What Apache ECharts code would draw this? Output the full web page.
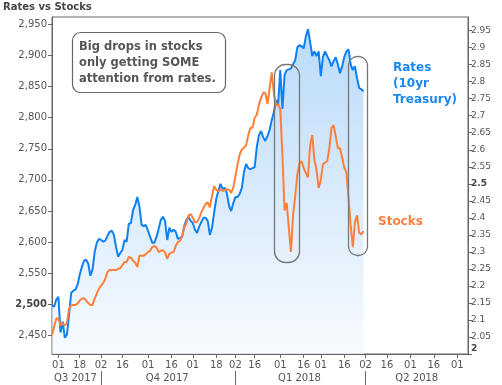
<!DOCTYPE html>
<html><head><meta charset="utf-8">
<script src="https://cdn.jsdelivr.net/npm/echarts@6/dist/echarts.min.js"></script>
<style>html,body{margin:0;padding:0;background:#fff}#c{width:502px;height:385px}</style>
</head><body><div id="c"></div>
<script>
// Trading-day calendar of the x axis (NYSE days), first and last category
const START_DATE = '2017-08-29';
const END_DATE = '2018-06-08';
const HOLIDAYS = ['2017-09-04','2017-11-23','2017-12-25','2018-01-01','2018-01-15','2018-02-19','2018-03-30','2018-05-28'];

// 10yr Treasury yield (%), one value per trading day from 2017-08-29
const rates = [
2.142,2.139,2.160,2.168,2.063,2.095,2.048,2.057,2.116,2.180,
2.186,2.189,2.204,2.233,2.256,2.274,2.277,2.265,2.230,2.248,
2.300,2.327,2.338,2.335,2.330,2.333,2.347,2.359,2.362,2.350,
2.315,2.286,2.297,2.306,2.335,2.330,2.382,2.385,2.423,2.438,
2.461,2.432,2.379,2.376,2.379,2.362,2.344,2.327,2.327,2.344,
2.368,2.394,2.403,2.391,2.335,2.371,2.359,2.365,2.359,2.338,
2.341,2.344,2.376,2.394,2.403,2.391,2.385,2.365,2.356,2.374,
2.388,2.400,2.400,2.391,2.350,2.371,2.415,2.456,2.479,2.500,
2.485,2.488,2.471,2.435,2.420,2.444,2.461,2.461,2.471,2.488,
2.535,2.558,2.546,2.543,2.546,2.549,2.608,2.643,2.655,2.637,
2.626,2.640,2.658,2.687,2.710,2.746,2.734,2.834,2.720,2.819,
2.834,2.836,2.839,2.851,2.863,2.901,2.907,2.904,2.898,2.933,
2.954,2.916,2.875,2.889,2.875,2.889,2.816,2.872,2.889,2.875,
2.863,2.845,2.860,2.872,2.851,2.825,2.845,2.872,2.889,2.895,
2.851,2.834,2.845,2.810,2.781,2.778,2.772];

// Stocks (S&P 500 level), same days
const stocks = [
2451,2464,2477,2477,2466,2469,2466,2470,2493,2498,
2499,2499,2501,2506,2509,2510,2506,2502,2499,2499,
2509,2517,2525,2530,2534,2541,2552,2555,2555,2555,
2555,2557,2558,2563,2568,2568,2576,2575,2570,2567,
2560,2578,2578,2578,2581,2584,2586,2592,2594,2591,
2584,2586,2587,2583,2573,2581,2583,2584,2594,2600,
2602,2610,2623,2631,2643,2645,2639,2632,2632,2639,
2648,2655,2661,2664,2656,2674,2690,2684,2682,2685,
2682,2684,2685,2684,2679,2688,2706,2725,2741,2749,
2752,2756,2772,2784,2784,2800,2805,2821,2832,2840,
2840,2822,2847,2873,2840,2820,2822,2814,2740,2651,
2663,2623,2584,2643,2674,2708,2727,2730,2719,2711,
2704,2756,2772,2732,2716,2687,2700,2725,2728,2730,
2751,2783,2788,2770,2751,2751,2736,2720,2712,2671,
2627,2592,2632,2643,2615,2612,2618];

const TITLE = 'Rates vs Stocks';
const NOTE_LINES = ['Big drops in stocks', 'only getting SOME', 'attention from rates.'];
const RATES_LABEL = ['Rates', '(10yr', 'Treasury)'];
const STOCKS_LABEL = 'Stocks';
const BOLD_LEFT = [2500];
const BOLD_RIGHT = ['2', '2.5'];

function buildDates() {
  const out = [];
  const hol = new Set(HOLIDAYS);
  let t = Date.parse(START_DATE + 'T00:00:00Z');
  const end = Date.parse(END_DATE + 'T00:00:00Z');
  while (t <= end) {
    const d = new Date(t);
    const wd = d.getUTCDay();
    const s = d.toISOString().slice(0, 10);
    if (wd !== 0 && wd !== 6 && !hol.has(s)) out.push(s);
    t += 86400000;
  }
  return out;
}
const dates = buildDates();

const dayTicks = new Set();
const quarterStarts = [];
for (let i = 1; i < dates.length; i++) {
  const m = +dates[i].slice(5, 7), pm = +dates[i - 1].slice(5, 7);
  const d = +dates[i].slice(8, 10), pd = +dates[i - 1].slice(8, 10);
  if (m !== pm) {
    dayTicks.add(i);
    if ((m - 1) % 3 === 0) quarterStarts.push(i);
  } else if (d >= 16 && pd < 16) dayTicks.add(i);
}
const qBounds = [0].concat(quarterStarts, [dates.length - 1]);
const qLabelIdx = new Map();
for (let k = 0; k < qBounds.length - 1; k++) {
  const c = Math.floor((qBounds[k] + qBounds[k + 1]) / 2);
  const ds = dates[c];
  const q = Math.floor((+ds.slice(5, 7) - 1) / 3) + 1;
  qLabelIdx.set(c, 'Q' + q + ' ' + ds.slice(0, 4));
}
const qStartSet = new Set(quarterStarts);

const FONT = '"DejaVu Sans", Verdana, sans-serif';
const AX = '#666';
const LBL = '#555';
const BLUE = '#0f80f2';
const ORANGE = '#ff7f3a';

const chart = echarts.init(document.getElementById('c'), null, {renderer: 'canvas'});
chart.setOption({
  animation: false,
  backgroundColor: '#fff',
  textStyle: {fontFamily: FONT},
  grid: {left: 52, right: 34, top: 17, bottom: 31, show: true, borderColor: AX, borderWidth: 1},
  xAxis: [{
    type: 'category', data: dates, boundaryGap: false,
    axisLine: {lineStyle: {color: AX}},
    axisTick: {length: 4, lineStyle: {color: AX}},
    axisLabel: {
      interval: (i) => dayTicks.has(i),
      formatter: (v) => v.slice(8, 10),
      color: LBL, fontSize: 10, fontFamily: FONT, margin: 6
    },
    splitLine: {show: false}
  }, {
    type: 'category', data: dates, boundaryGap: false, position: 'bottom', offset: 17,
    axisLine: {show: false},
    axisTick: {show: true, interval: (i) => qStartSet.has(i), length: 14, lineStyle: {color: AX}},
    axisLabel: {
      interval: (i) => qLabelIdx.has(i),
      formatter: (v, i) => qLabelIdx.get(i) || '',
      color: LBL, fontSize: 10, fontFamily: FONT, margin: 2
    },
    splitLine: {show: false}
  }],
  yAxis: [{
    type: 'value', position: 'left', min: 2420, max: 2962,
    minInterval: 50, maxInterval: 50, splitNumber: 10,
    axisLine: {show: true, lineStyle: {color: AX}},
    axisTick: {show: true, length: 4, lineStyle: {color: AX}},
    splitLine: {show: false},
    axisLabel: {
      showMinLabel: false, showMaxLabel: false, margin: 5,
      color: LBL, fontSize: 10, fontFamily: FONT,
      formatter: (v) => {
        const s = Math.round(v).toLocaleString('en-US');
        return BOLD_LEFT.indexOf(Math.round(v)) >= 0 ? '{b|' + s + '}' : s;
      },
      rich: {b: {fontWeight: 'bold', color: '#444', fontSize: 10, fontFamily: FONT}}
    }
  }, {
    type: 'value', position: 'right', min: 2, max: 2.99, interval: 0.05,
    axisLine: {show: true, lineStyle: {color: AX}},
    axisTick: {show: true, length: 4, lineStyle: {color: AX}},
    splitLine: {show: false},
    axisLabel: {
      showMinLabel: true, showMaxLabel: false, hideOverlap: false, margin: 3,
      color: LBL, fontSize: 9, fontFamily: FONT,
      formatter: (v) => {
        const s = String(+(+v).toFixed(2));
        if (s === '2') return '{m|' + s + '}';
        return BOLD_RIGHT.indexOf(s) >= 0 ? '{b|' + s + '}' : s;
      },
      rich: {
        b: {fontWeight: 'bold', color: '#444', fontSize: 9, fontFamily: FONT},
        m: {fontWeight: 'bold', color: '#444', fontSize: 9, fontFamily: FONT, padding: [0, 0, 11, 0]}
      }
    }
  }],
  series: [{
    name: 'Rates', type: 'line', xAxisIndex: 0, yAxisIndex: 1, data: rates,
    showSymbol: false, symbol: 'none', z: 2,
    lineStyle: {color: BLUE, width: 2},
    itemStyle: {color: BLUE},
    areaStyle: {
      color: new echarts.graphic.LinearGradient(0, 0, 0, 1, [
        {offset: 0, color: '#9dcbf6'},
        {offset: 1, color: '#f4f9fe'}
      ])
    }
  }, {
    name: 'Stocks', type: 'line', xAxisIndex: 0, yAxisIndex: 0, data: stocks,
    showSymbol: false, symbol: 'none', z: 3,
    lineStyle: {color: ORANGE, width: 2},
    itemStyle: {color: ORANGE}
  }],
  graphic: [
    {type: 'text', x: 3, y: 1, z: 10, style: {text: TITLE, font: 'bold 10px ' + FONT, fill: '#444', lineHeight: 12, verticalAlign: 'top'}},
    {type: 'rect', z: 10, shape: {x: 72.5, y: 32.5, width: 153, height: 60, r: 8}, style: {fill: '#fff', stroke: '#666', lineWidth: 1.2}},
    {type: 'text', x: 79, y: 39, z: 11, style: {text: NOTE_LINES.join('\n'), font: 'bold 11.5px ' + FONT, fill: '#555', lineHeight: 16, verticalAlign: 'top'}},
    {type: 'rect', z: 10, shape: {x: 274.5, y: 64.5, width: 25, height: 198, r: 11}, style: {fill: 'none', stroke: '#777', lineWidth: 1.3}},
    {type: 'rect', z: 10, shape: {x: 348.5, y: 56.5, width: 19, height: 199, r: 9}, style: {fill: 'none', stroke: '#777', lineWidth: 1.3}},
    {type: 'text', x: 393, y: 60, z: 11, style: {text: RATES_LABEL.join('\n'), font: 'bold 12px ' + FONT, fill: '#1a88f0', lineHeight: 16, verticalAlign: 'top'}},
    {type: 'text', x: 378, y: 214, z: 11, style: {text: STOCKS_LABEL, font: 'bold 12px ' + FONT, fill: ORANGE, lineHeight: 16, verticalAlign: 'top'}}
  ]
});
</script>
</body></html>
